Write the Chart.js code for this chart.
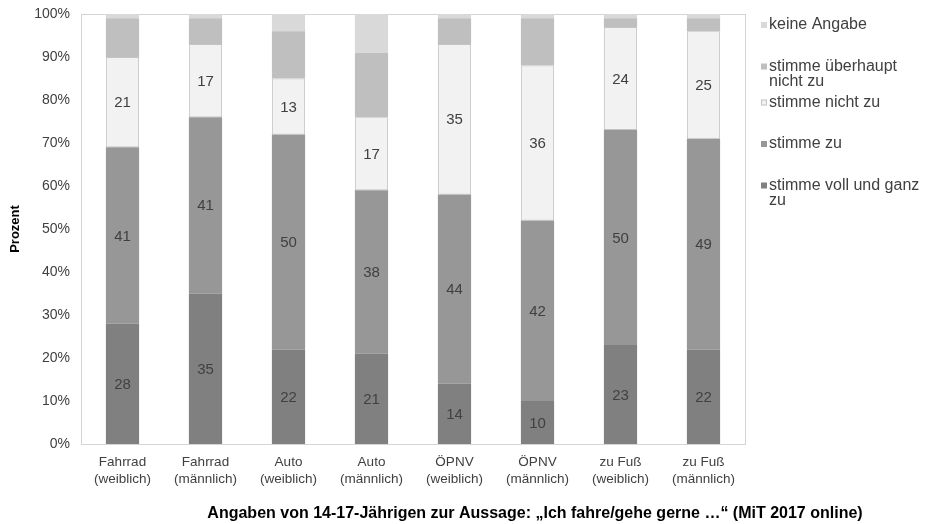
<!DOCTYPE html>
<html lang="de">
<head>
  <meta charset="UTF-8">
  <title>Ich fahre/gehe gerne</title>
  <script src="https://cdn.jsdelivr.net/npm/chart.js"></script>
  <style>
    html, body { margin: 0; padding: 0; background: #fff; }
    #wrap { width: 929px; height: 524px; position: relative; }
  </style>
</head>
<body>
  <div id="wrap"><canvas id="chart"></canvas></div>

  <script>
    // Kategorien (zweizeilig)
    const categories = [
      ['Fahrrad', '(weiblich)'], ['Fahrrad', '(männlich)'],
      ['Auto', '(weiblich)'], ['Auto', '(männlich)'],
      ['ÖPNV', '(weiblich)'], ['ÖPNV', '(männlich)'],
      ['zu Fuß', '(weiblich)'], ['zu Fuß', '(männlich)']
    ];

    // Werte in Prozent, von unten nach oben gestapelt
    const stimmeVoll      = [28, 35, 22, 21, 14, 10, 23, 22];
    const stimmeZu        = [41, 41, 50, 38, 44, 42, 50, 49];
    const stimmeNichtZu   = [21, 17, 13, 17, 35, 36, 24, 25];
    const ueberhauptNicht = [ 9,  6, 11, 15,  6, 11,  2,  3];
    const keineAngabe     = [ 1,  1,  4,  9,  1,  1,  1,  1];

    const yTicks = [0, 10, 20, 30, 40, 50, 60, 70, 80, 90, 100];

    const FONT = '"Liberation Sans", Arial, sans-serif';
    const TXT = '#404040';

    const datasets = [
      { label: ['stimme voll und ganz', 'zu'], data: stimmeVoll, backgroundColor: '#808080', showValue: true },
      { label: ['stimme zu'], data: stimmeZu, backgroundColor: '#979797', showValue: true },
      { label: ['stimme nicht zu'], data: stimmeNichtZu, backgroundColor: '#f2f2f2', borderColor: '#c4c4c4', borderWidth: 1, showValue: true },
      { label: ['stimme überhaupt', 'nicht zu'], data: ueberhauptNicht, backgroundColor: '#bfbfbf' },
      { label: ['keine Angabe'], data: keineAngabe, backgroundColor: '#d9d9d9' }
    ];

    // Rahmen, Werte in den Balken, Legende und Unterschrift
    const extras = {
      id: 'extras',
      beforeDatasetsDraw(chart) {
        const { ctx, chartArea: a } = chart;
        ctx.save();
        ctx.strokeStyle = '#d4d4d4';
        ctx.lineWidth = 1;
        ctx.strokeRect(Math.round(a.left) + 0.5, Math.round(a.top) + 0.5,
                       Math.round(a.right - a.left), Math.round(a.bottom - a.top));
        ctx.restore();
      },
      afterDatasetsDraw(chart) {
        const ctx = chart.ctx;
        ctx.save();
        ctx.font = '15px ' + FONT;
        ctx.fillStyle = TXT;
        ctx.textAlign = 'center';
        ctx.textBaseline = 'middle';
        chart.data.datasets.forEach((ds, di) => {
          if (!ds.showValue) return;
          chart.getDatasetMeta(di).data.forEach((bar, i) => {
            const p = bar.getProps(['x', 'y', 'base'], true);
            ctx.fillText(String(ds.data[i]), p.x, (p.y + p.base) / 2 + 1);
          });
        });
        ctx.restore();
      },
      afterDraw(chart) {
        const { ctx, chartArea: a } = chart;
        ctx.save();
        // Legende (umgekehrte Reihenfolge)
        ctx.font = '16px ' + FONT;
        ctx.textBaseline = 'middle';
        const x = a.right + 16;
        let y = a.top + 11;
        chart.data.datasets.slice().reverse().forEach(ds => {
          ctx.fillStyle = ds.backgroundColor;
          ctx.fillRect(x, y - 3, 6, 6);
          if (ds.borderColor) {
            ctx.strokeStyle = ds.borderColor;
            ctx.strokeRect(x + 0.5, y - 2.5, 5, 5);
          }
          ctx.fillStyle = TXT;
          ds.label.forEach((line, li) => ctx.fillText(line, x + 8, y + li * 15));
          y += ds.label.length > 1 ? 36 : 41.5;
        });
        // Unterschrift
        ctx.font = 'bold 16px ' + FONT;
        ctx.fillStyle = '#000';
        ctx.textAlign = 'center';
        ctx.fillText('Angaben von 14-17-Jährigen zur Aussage: „Ich fahre/gehe gerne …“ (MiT 2017 online)',
                     535, 514);
        ctx.restore();
      }
    };

    new Chart(document.getElementById('chart'), {
      type: 'bar',
      data: { labels: categories, datasets: datasets },
      options: {
        responsive: true,
        maintainAspectRatio: false,
        animation: false,
        layout: { padding: { left: 8, top: 14, right: 184, bottom: 0 } },
        datasets: { bar: { categoryPercentage: 1, barPercentage: 0.4, borderSkipped: false } },
        plugins: {
          legend: { display: false },
          tooltip: { enabled: false }
        },
        scales: {
          x: {
            stacked: true,
            grid: { display: false, drawTicks: false },
            border: { display: false },
            ticks: { color: TXT, font: { family: FONT, size: 13.5, lineHeight: 1.25 }, padding: 10, maxRotation: 0 },
            afterFit: s => { s.height = 80; }
          },
          y: {
            stacked: true,
            min: 0,
            max: 100,
            afterBuildTicks: s => { s.ticks = yTicks.map(v => ({ value: v })); },
            grid: { display: false, drawTicks: false },
            border: { display: false },
            ticks: { color: TXT, font: { family: FONT, size: 14 }, padding: 11, callback: v => v + '%' },
            title: { display: true, text: 'Prozent', color: '#000', font: { family: FONT, size: 13, weight: 'bold' }, padding: 0 },
            afterFit: s => { s.width = 73; s.paddingTop = 0; s.paddingBottom = 0; }
          }
        }
      },
      plugins: [extras]
    });
  </script>
</body>
</html>
